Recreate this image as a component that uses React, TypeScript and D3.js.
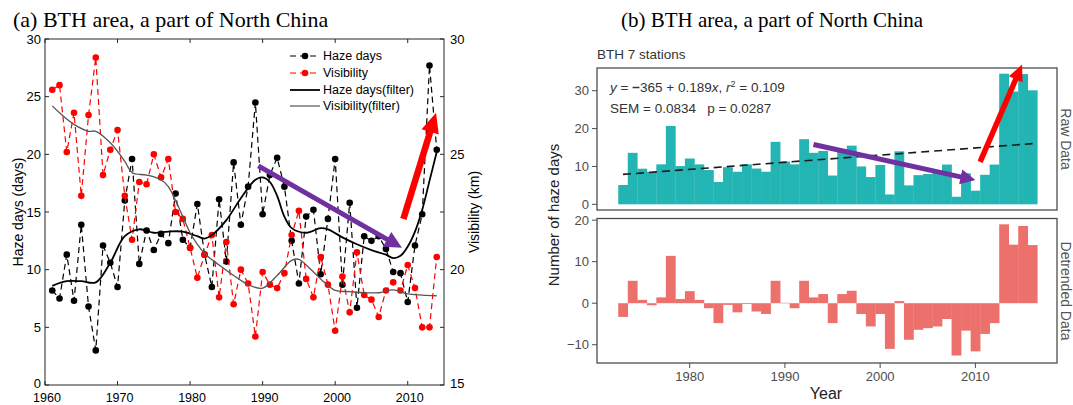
import React from 'react';
import * as d3 from 'd3';

// ---------- Panel (a) data ----------
const yearsA = d3.range(1961, 2015);
const hazeDays = [
  8.2, 7.5, 11.3, 7.3, 13.9, 6.8, 3.0, 12.1, 10.6, 8.5,
  16.0, 19.6, 10.5, 13.4, 11.7, 13.1, 12.3, 16.6, 12.6, 11.9,
  15.7, 11.3, 8.5, 16.1, 10.7, 19.3, 13.9, 17.2, 24.5, 14.8,
  18.2, 19.7, 17.2, 12.5, 8.8, 14.6, 15.2, 9.6, 14.4, 19.6,
  8.7, 15.8, 6.7, 12.9, 12.5, 12.9, 11.8, 9.8, 9.7, 7.2,
  12.1, 14.8, 27.7, 20.4,
];
const visibility = [
  27.8, 28.0, 25.1, 26.8, 23.2, 26.7, 29.2, 24.1, 25.2, 26.05,
  23.2, 21.3, 23.8, 23.7, 25.0, 24.0, 24.8, 22.5, 22.2, 20.95,
  19.65, 20.65, 21.5, 18.8, 21.2, 18.5, 20.0, 19.4, 17.1, 19.9,
  19.35, 19.2, 19.85, 21.5, 22.55, 19.6, 18.8, 20.55, 19.35, 17.35,
  19.7, 18.15, 20.75, 18.9, 18.7, 17.95, 19.1, 19.45, 19.1, 20.2,
  19.2, 17.5, 17.5, 20.55,
];
const hazeFilterYears = [1961, 1963, 1965, 1967, 1969, 1971, 1973, 1975, 1977, 1979, 1981, 1982, 1983, 1985, 1987, 1989, 1990, 1991, 1992, 1993, 1994, 1996, 1998, 1999, 2001, 2003, 2005, 2007, 2008, 2009, 2010, 2011, 2012, 2013, 2014];
const hazeFilter = [8.6, 9.0, 9.0, 8.9, 10.6, 12.9, 13.5, 13.2, 13.3, 13.3, 12.9, 12.7, 13.0, 14.3, 16.2, 17.8, 18.0, 17.6, 16.4, 14.6, 13.6, 13.2, 13.6, 13.5, 12.8, 12.2, 11.7, 11.3, 11.0, 11.2, 12.0, 13.3, 15.2, 17.7, 20.2];
const visFilterYears = [1961, 1962, 1964, 1966, 1967, 1969, 1971, 1972, 1974, 1976, 1977, 1978, 1979, 1980, 1981, 1982, 1984, 1986, 1988, 1990, 1992, 1994, 1995, 1996, 1998, 2000, 2002, 2004, 2006, 2008, 2010, 2012, 2014];
const visFilter = [27.1, 26.8, 26.3, 26.0, 26.0, 25.5, 24.7, 24.2, 24.1, 23.9, 23.6, 23.0, 22.3, 21.6, 21.1, 20.7, 20.2, 19.75, 19.35, 19.2, 19.75, 20.4, 20.45, 20.2, 19.6, 19.1, 19.05, 19.0, 19.0, 19.12, 18.95, 18.9, 18.87];
const xTicksA = [1960, 1970, 1980, 1990, 2000, 2010];
const yTicksHaze = [0, 5, 10, 15, 20, 25, 30];
const yTicksVis = [15, 20, 25, 30];
const legendA = ['Haze days', 'Visibility', 'Haze days(filter)', 'Visibility(filter)'];
// annotation arrows in data coordinates [year, value]
const purpleArrowA = [[1989.4, 19.0], [2009.2, 11.9]];
const redArrowA = [[2009.4, 14.4], [2013.9, 23.6]];

// ---------- Panel (b) data ----------
const yearsB = d3.range(1973, 2017);
const rawHaze = [
  5.1, 13.6, 9.4, 8.6, 10.55, 20.7, 10.1, 12.1, 10.55, 9.05,
  5.9, 9.8, 8.6, 10.55, 9.45, 8.6, 16.5, 11.3, 10.55, 17.2,
  13.6, 14.1, 7.6, 14.4, 15.5, 10.0, 7.2, 10.4, 2.6, 14.0,
  5.0, 7.7, 8.0, 8.5, 10.5, 2.0, 8.2, 3.6, 7.8, 10.5,
  34.5, 29.8, 34.4, 30.1,
];
const detrended = [
  -3.3, 5.4, 0.8, -0.5, 1.4, 11.4, 1.0, 2.9, 0.8, -1.2,
  -4.8, -0.4, -2.2, -0.2, -2.0, -2.6, 5.4, 0.1, -1.2, 5.4,
  1.4, 2.2, -4.8, 2.2, 3.0, -2.6, -5.6, -2.6, -11.0, 0.5,
  -8.8, -6.4, -6.0, -5.6, -3.8, -12.6, -6.6, -11.6, -7.4, -4.8,
  19.0, 14.1, 18.6, 14.0,
];
const trendIntercept = -365;
const trendSlope = 0.189;
const xTicksB = [1980, 1990, 2000, 2010];
const yTicksTop = [0, 10, 20, 30];
const yTicksBot = [-10, 0, 10, 20];
const purpleArrowB = [[1993.0, 15.8], [2010.0, 6.4]];
const redArrowB = [[2010.5, 11.2], [2014.9, 36.9]];

const SANS = "Arial, 'Liberation Sans', Helvetica, sans-serif";
const SERIF = "'Times New Roman', 'Liberation Serif', serif";

function Arrow({ p1, p2, w, hl, hw, color }: any) {
  const [x1, y1] = p1;
  const [x2, y2] = p2;
  const dx = x2 - x1, dy = y2 - y1;
  const L = Math.hypot(dx, dy);
  const ux = dx / L, uy = dy / L;
  const bx = x2 - ux * hl, by = y2 - uy * hl;
  const px = -uy, py = ux;
  return (
    <g>
      <line x1={x1} y1={y1} x2={bx + ux * 1} y2={by + uy * 1} stroke={color} strokeWidth={w} />
      <polygon
        points={`${x2},${y2} ${bx + (px * hw) / 2},${by + (py * hw) / 2} ${bx - (px * hw) / 2},${by - (py * hw) / 2}`}
        fill={color}
      />
    </g>
  );
}

function PanelA() {
  const xA = d3.scaleLinear().domain([1960, 2015]).range([45, 444]);
  const yH = d3.scaleLinear().domain([0, 30]).range([385, 39]);
  const yV = d3.scaleLinear().domain([15, 30]).range([385, 39]);
  const hazeLine = d3.line<number>().x((_, i) => xA(yearsA[i])).y((d) => yH(d));
  const visLine = d3.line<number>().x((_, i) => xA(yearsA[i])).y((d) => yV(d));
  const hazeF = d3.line<number>().x((_, i) => xA(hazeFilterYears[i])).y((d) => yH(d)).curve(d3.curveCatmullRom);
  const visF = d3.line<number>().x((_, i) => xA(visFilterYears[i])).y((d) => yV(d)).curve(d3.curveCatmullRom);
  const axisCol = '#262626';
  const legY = [56, 73, 90, 106];
  return (
    <g fontFamily={SANS}>
      <text x={13} y={27} fontFamily={SERIF} fontSize={22} fill="#000">(a) BTH area, a part of North China</text>
      {/* data */}
      <path d={hazeLine(hazeDays)!} fill="none" stroke="#000" strokeWidth={1.2} strokeDasharray="6 4" />
      {hazeDays.map((d, i) => (
        <circle key={'h' + i} cx={xA(yearsA[i])} cy={yH(d)} r={3.3} fill="#000" />
      ))}
      <path d={visLine(visibility)!} fill="none" stroke="#ff0000" strokeWidth={1.2} strokeDasharray="6 4" />
      {visibility.map((d, i) => (
        <circle key={'v' + i} cx={xA(yearsA[i])} cy={yV(d)} r={3.3} fill="#ff0000" />
      ))}
      <path d={hazeF(hazeFilter)!} fill="none" stroke="#000" strokeWidth={1.8} />
      <path d={visF(visFilter)!} fill="none" stroke="#555" strokeWidth={1.3} />
      {/* frame */}
      <rect x={45} y={39} width={399} height={346} fill="none" stroke={axisCol} strokeWidth={1} />
      {xTicksA.map((t) => (
        <g key={'xt' + t}>
          <line x1={xA(t)} x2={xA(t)} y1={385} y2={381} stroke={axisCol} />
          <line x1={xA(t)} x2={xA(t)} y1={39} y2={43} stroke={axisCol} />
          <text x={xA(t) + 2} y={402.2} fontSize={12.5} textAnchor="middle" fill="#000">{t}</text>
        </g>
      ))}
      {yTicksHaze.map((t) => (
        <g key={'yt' + t}>
          <line x1={45} x2={49} y1={yH(t)} y2={yH(t)} stroke={axisCol} />
          <line x1={444} x2={440} y1={yH(t)} y2={yH(t)} stroke={axisCol} />
          <text x={41} y={yH(t) + (t === 0 ? 3 : 4.5)} fontSize={13} textAnchor="end" fill="#000">{t}</text>
        </g>
      ))}
      {yTicksVis.map((t) => (
        <text key={'vt' + t} x={450} y={yV(t) + (t === 15 ? 3 : 4.5)} fontSize={13} textAnchor="start" fill="#000">{t}</text>
      ))}
      <text transform="translate(18,212) rotate(-90)" fontSize={14} textAnchor="middle" dominantBaseline="central" fill="#000">Haze days (days)</text>
      <text transform="translate(474,212) rotate(-90)" fontSize={14} textAnchor="middle" dominantBaseline="central" fill="#000">Visibility (km)</text>
      {/* legend */}
      {legendA.map((lab, i) => {
        const y = legY[i];
        const col = i === 1 ? '#ff0000' : i === 3 ? '#555' : '#000';
        return (
          <g key={'lg' + i}>
            <line x1={290} x2={320} y1={y} y2={y} stroke={col} strokeWidth={i === 2 ? 1.8 : 1.2} strokeDasharray={i < 2 ? '6 4' : undefined} />
            {i < 2 && <circle cx={305} cy={y} r={3.3} fill={col} />}
            <text x={323} y={y + 4.3} fontSize={12.5} fill="#000">{lab}</text>
          </g>
        );
      })}
      <Arrow p1={[xA(purpleArrowA[0][0]), yH(purpleArrowA[0][1])]} p2={[xA(purpleArrowA[1][0]), yH(purpleArrowA[1][1])]} w={5} hl={17} hw={17} color="#7030A0" />
      <Arrow p1={[xA(redArrowA[0][0]), yH(redArrowA[0][1])]} p2={[xA(redArrowA[1][0]), yH(redArrowA[1][1])]} w={6.5} hl={20} hw={18} color="#ff0000" />
    </g>
  );
}

function PanelB() {
  const xB = d3.scaleLinear().domain([1970.27, 2018.57]).range([597, 1057]);
  const yT = d3.scaleLinear().domain([-1.5, 36]).range([210, 68]);
  const yB = d3.scaleLinear().domain([-14.4, 20.4]).range([363, 218.5]);
  const border = '#4d4d4d';
  const tickCol = '#4d4d4d';
  const trendLine = d3.line<number>().x((d) => xB(d)).y((d) => yT(trendIntercept + trendSlope * d));
  return (
    <g fontFamily={SANS}>
      <text x={621} y={27} fontFamily={SERIF} fontSize={21} fill="#000">(b) BTH area, a part of North China</text>
      <text x={597} y={59} fontSize={13.5} fill="#333">BTH 7 stations</text>
      {/* top panel */}
      {rawHaze.map((v, i) => {
        const yr = yearsB[i];
        const x0 = xB(yr - 0.5), x1 = xB(yr + 0.5);
        return <rect key={'r' + i} x={x0} width={x1 - x0 + 0.3} y={yT(v)} height={yT(0) - yT(v)} fill="#23B5B3" />;
      })}
      <path d={trendLine([yearsB[0], yearsB[yearsB.length - 1]])!} stroke="#1a1a1a" strokeWidth={1.6} strokeDasharray="8 5" fill="none" />
      <text x={610} y={92} fontSize={13.5} fill="#333">
        <tspan fontStyle="italic">y</tspan> = <tspan fontWeight="bold">−</tspan>365 + 0.189<tspan fontStyle="italic">x</tspan>, <tspan fontStyle="italic">r</tspan><tspan fontSize={9} dy={-5}>2</tspan><tspan dy={5}> = 0.109</tspan>
      </text>
      <text x={610} y={113} fontSize={13.5} fill="#333" xmlSpace="preserve">SEM = 0.0834   p = 0.0287</text>
      <rect x={597} y={68} width={460} height={142} fill="none" stroke={border} strokeWidth={1.3} />
      {yTicksTop.map((t) => (
        <g key={'tt' + t}>
          <line x1={592} x2={597} y1={yT(t)} y2={yT(t)} stroke={tickCol} />
          <text x={589} y={yT(t) + 4.5} fontSize={13} textAnchor="end" fill="#4d4d4d">{t}</text>
        </g>
      ))}
      {/* bottom panel */}
      {detrended.map((v, i) => {
        const yr = yearsB[i];
        const x0 = xB(yr - 0.5), x1 = xB(yr + 0.5);
        const ya = Math.min(yB(v), yB(0)), yb = Math.max(yB(v), yB(0));
        return <rect key={'d' + i} x={x0} width={x1 - x0 + 0.3} y={ya} height={Math.max(yb - ya, 0.5)} fill="#EC706C" />;
      })}
      <rect x={597} y={218.5} width={460} height={144.5} fill="none" stroke={border} strokeWidth={1.3} />
      {yTicksBot.map((t) => (
        <g key={'bt' + t}>
          <line x1={592} x2={597} y1={yB(t)} y2={yB(t)} stroke={tickCol} />
          <text x={589} y={yB(t) + 4.5} fontSize={13} textAnchor="end" fill="#4d4d4d">{t < 0 ? '−' + Math.abs(t) : t}</text>
        </g>
      ))}
      {xTicksB.map((t) => (
        <g key={'xb' + t}>
          <line x1={xB(t)} x2={xB(t)} y1={363} y2={368} stroke={tickCol} />
          <text x={xB(t)} y={381} fontSize={13} textAnchor="middle" fill="#4d4d4d">{t}</text>
        </g>
      ))}
      <text x={826} y={399} fontSize={16} textAnchor="middle" fill="#222">Year</text>
      <text transform="translate(553,215) rotate(-90)" fontSize={15} textAnchor="middle" dominantBaseline="central" fill="#222">Number of haze days</text>
      <text transform="translate(1066,139) rotate(90)" fontSize={14} textAnchor="middle" dominantBaseline="central" fill="#555">Raw Data</text>
      <text transform="translate(1066,291) rotate(90)" fontSize={14} textAnchor="middle" dominantBaseline="central" fill="#555">Detrended Data</text>
      <Arrow p1={[xB(purpleArrowB[0][0]), yT(purpleArrowB[0][1])]} p2={[xB(purpleArrowB[1][0]), yT(purpleArrowB[1][1])]} w={5} hl={15} hw={15} color="#7030A0" />
      <Arrow p1={[xB(redArrowB[0][0]), yT(redArrowB[0][1])]} p2={[xB(redArrowB[1][0]), yT(redArrowB[1][1])]} w={5.5} hl={16} hw={15} color="#ff0000" />
    </g>
  );
}

export default function App() {
  return (
    <svg width={1073} height={405} style={{ position: 'absolute', left: 0, top: 0, background: '#fff' }}>
      <rect width={1073} height={405} fill="#fff" />
      <PanelA />
      <PanelB />
    </svg>
  );
}
